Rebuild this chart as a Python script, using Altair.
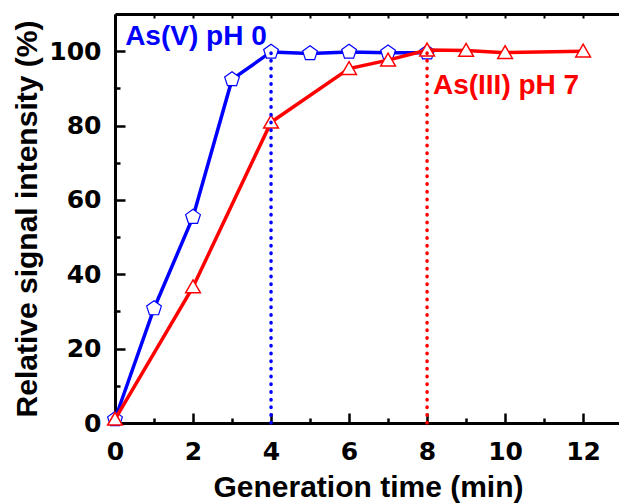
import altair as alt
import pandas as pd

# ---- data ----
as5_time = [0, 1, 2, 3, 4, 5, 6, 7, 8]
as5_signal = [1.0, 30.8, 55.4, 92.4, 99.8, 99.4, 99.8, 99.6, 99.6]

as3_time = [0, 2, 4, 6, 7, 8, 9, 10, 12]
as3_signal = [1.0, 36.6, 80.9, 95.3, 97.6, 100.3, 100.2, 99.6, 100.0]

series_labels = ["As(V) pH 0", "As(III) pH 7"]
complete_times = [4, 8]          # dotted markers
plateau_level = 100

x_major = [0, 2, 4, 6, 8, 10, 12]
x_minor = [1, 3, 5, 7, 9, 11]
x_all = list(range(0, 13))
y_major = [0, 20, 40, 60, 80, 100]
y_minor = [10, 30, 50, 70, 90]

BLUE = "#0000ff"
RED = "#ff0000"
FONT = "Liberation Sans"
TICKFONT = "DejaVu Sans"

W, H = 504, 409
XDOM = [0, 12.92]
YDOM = [0, 110]

df5 = pd.DataFrame({"t": as5_time, "v": as5_signal})
df3 = pd.DataFrame({"t": as3_time, "v": as3_signal})

xs = alt.Scale(domain=XDOM, nice=False, zero=False)
ys = alt.Scale(domain=YDOM, nice=False, zero=False)

tick_common = dict(tickColor="black", tickWidth=2.5, labels=False, domain=False,
                   grid=False, title=None)

ax_x_main = alt.Axis(values=x_major, ticks=False, domain=True, domainColor="black",
                     domainWidth=3, labelFont=TICKFONT, labelFontWeight="bold",
                     labelFontSize=25, labelColor="black", labelPadding=16,
                     labelFlush=False, labelOverlap=False,
                     grid=False, title="Generation time (min)", titleFont=FONT,
                     titleFontWeight="bold", titleFontSize=30, titleColor="black",
                     titleX=253, titleY=73, titleBaseline="alphabetic",
                     titleAlign="center", titleAnchor="middle")
ax_y_main = alt.Axis(values=y_major, ticks=False, domain=True, domainColor="black",
                     domainWidth=3, labelFont=TICKFONT, labelFontWeight="bold",
                     labelFontSize=25, labelColor="black", labelPadding=14,
                     labelFlush=False, labelOverlap=False,
                     grid=False, title="Relative signal intensity (%)", titleFont=FONT,
                     titleFontWeight="bold", titleFontSize=30, titleColor="black",
                     titleX=-79, titleY=H / 2, titleAngle=270,
                     titleBaseline="alphabetic", titleAlign="center",
                     titleAnchor="middle")

ax_x_major_in = alt.Axis(orient="top", offset=-H, values=x_major, tickSize=10, **tick_common)
ax_y_major_in = alt.Axis(orient="right", offset=-W, values=y_major, tickSize=10, **tick_common)
ax_x_minor_in = alt.Axis(orient="top", offset=-H, values=x_minor, tickSize=5, **tick_common)
ax_y_minor_in = alt.Axis(orient="right", offset=-W, values=y_minor, tickSize=5, **tick_common)
ax_x_top = alt.Axis(orient="bottom", offset=-H, values=x_all, tickSize=4, tickColor="black",
                    tickWidth=2, labels=False, domain=True, domainColor="black",
                    domainWidth=3, grid=False, title=None)

pent = "M0,-1L0.951,-0.309L0.588,0.809L-0.588,0.809L-0.951,-0.309Z"
tri = "M0,-0.9L0.95,0.75L-0.95,0.75Z"

blue_line = alt.Chart(df5).mark_line(color=BLUE, strokeWidth=3.5).encode(
    x=alt.X("t:Q", scale=xs, axis=ax_x_main),
    y=alt.Y("v:Q", scale=ys, axis=ax_y_main),
)
blue_pts = alt.Chart(df5).mark_point(shape=pent, size=240, filled=False, fill="white",
                                     fillOpacity=1, color=BLUE, strokeWidth=1.2,
                                     opacity=1).encode(
    x=alt.X("t:Q", scale=xs, axis=ax_x_major_in),
    y=alt.Y("v:Q", scale=ys, axis=ax_y_major_in),
)
red_line = alt.Chart(df3).mark_line(color=RED, strokeWidth=3.5).encode(
    x=alt.X("t:Q", scale=xs, axis=ax_x_minor_in),
    y=alt.Y("v:Q", scale=ys, axis=ax_y_minor_in),
)
red_pts = alt.Chart(df3).mark_point(shape=tri, size=240, filled=False, fill="white",
                                    fillOpacity=1, color=RED, strokeWidth=1.5,
                                    opacity=1).encode(
    x=alt.X("t:Q", scale=xs, axis=ax_x_top),
    y=alt.Y("v:Q", scale=ys, axis=None),
)

rule_blue = alt.Chart().mark_rule(color=BLUE, strokeWidth=3.5, strokeDash=[0.5, 7.2],
                                  strokeCap="round").encode(
    x=alt.X(datum=complete_times[0], scale=xs, axis=None),
    y=alt.Y(datum=0, scale=ys, axis=None),
    y2=alt.Y2(datum=plateau_level),
)
rule_red = alt.Chart().mark_rule(color=RED, strokeWidth=3.5, strokeDash=[0.5, 7.2],
                                 strokeCap="round").encode(
    x=alt.X(datum=complete_times[1], scale=xs, axis=None),
    y=alt.Y(datum=0, scale=ys, axis=None),
    y2=alt.Y2(datum=plateau_level),
)

txt_blue = alt.Chart().mark_text(text=series_labels[0], color=BLUE, font=FONT,
                                 fontWeight="bold", fontSize=28, align="left",
                                 baseline="alphabetic").encode(
    x=alt.X(datum=0.26, scale=xs, axis=None),
    y=alt.Y(datum=101.6, scale=ys, axis=None),
)
txt_red = alt.Chart().mark_text(text=series_labels[1], color=RED, font=FONT,
                                fontWeight="bold", fontSize=28, align="left",
                                baseline="alphabetic").encode(
    x=alt.X(datum=8.15, scale=xs, axis=None),
    y=alt.Y(datum=88.4, scale=ys, axis=None),
)

chart = alt.layer(
    blue_line, blue_pts, red_line, red_pts, rule_blue, rule_red, txt_blue, txt_red
).resolve_axis(x="independent", y="independent").properties(
    width=W, height=H,
    autosize=alt.AutoSizeParams(type="none"),
    padding={"left": 115, "top": 14, "right": 0, "bottom": 81},
).configure_view(stroke=None).configure(background="white")

chart.save("out.html", embed_options={"renderer": "svg", "actions": False})
